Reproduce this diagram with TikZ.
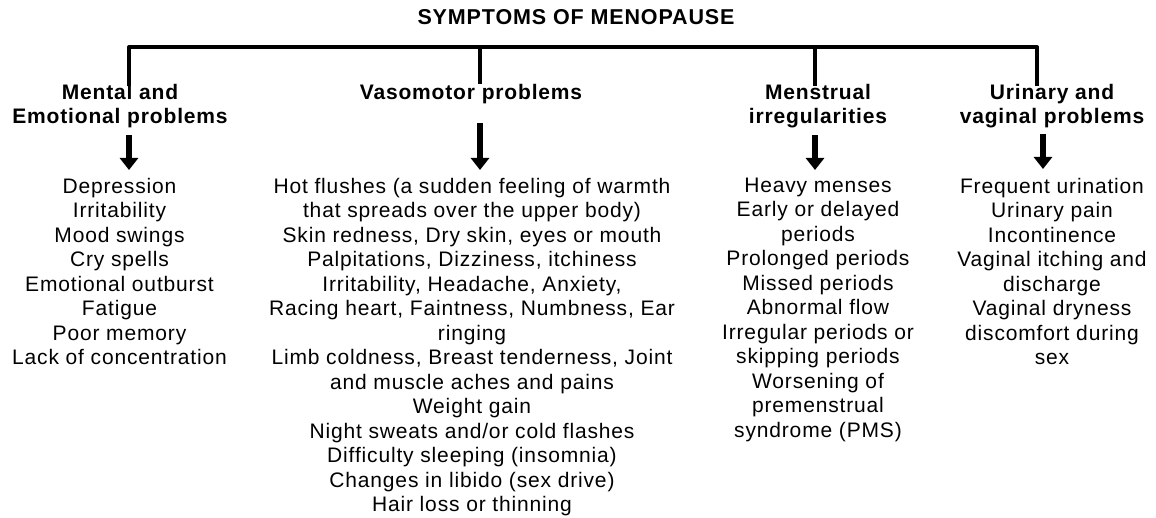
\documentclass[tikz,border=0pt]{standalone}
\usepackage{fontspec}
\setmainfont{Liberation Sans}[LetterSpace=4]
\usepackage{tikz}
\usetikzlibrary{positioning,arrows.meta}
\tikzset{
  txt/.style={inner sep=0pt, align=center, font=\fontsize{10.5pt}{12.25pt}\selectfont},
  head/.style={inner sep=0pt, align=center, anchor=north,
               font=\fontsize{10.5pt}{12pt}\selectfont\bfseries},
  item/.style={txt, anchor=north},
  tree/.style={line width=2pt, line join=round},
  arrow/.style={-{Triangle[width=9pt,length=6pt]}, line width=3.25pt},
}

\begin{document}
\begin{tikzpicture}[x=0.5pt,y=-0.5pt]
  \useasboundingbox (0,0) rectangle (1156,518);

  \node[txt, font=\fontsize{10.75pt}{13pt}\selectfont\bfseries] (t) at (576,17.5) {SYMPTOMS OF MENOPAUSE};

  % headings
  \node[head] (h1) at (120,84.2) {Mental and\\Emotional problems};
  \node[head] (h2) at (471,84.2) {Vasomotor problems};
  \node[head] (h3) at (818,84.2) {Menstrual\\irregularities};
  \node[head] (h4) at (1052,84.2) {Urinary and\\vaginal problems};

  % lists
  \node[item] (l1) at (119.5,177.5) {Depression\\Irritability\\Mood swings\\Cry spells\\Emotional outburst\\Fatigue\\Poor memory\\Lack of concentration};
  \node[item] (l2) at (472,177.5) {Hot flushes (a sudden feeling of warmth\\that spreads over the upper body)\\Skin redness, Dry skin, eyes or mouth\\Palpitations, Dizziness, itchiness\\Irritability, Headache, Anxiety,\\Racing heart, Faintness, Numbness, Ear\\ringing\\Limb coldness, Breast tenderness, Joint\\and muscle aches and pains\\Weight gain\\Night sweats and/or cold flashes\\Difficulty sleeping (insomnia)\\Changes in libido (sex drive)\\Hair loss or thinning};
  \node[item] (l3) at (818,177.5) {Heavy menses\\Early or delayed\\periods\\Prolonged periods\\Missed periods\\Abnormal flow\\Irregular periods or\\skipping periods\\Worsening of\\premenstrual\\syndrome (PMS)};
  \node[item] (l4) at (1052,177.5) {Frequent urination\\Urinary pain\\Incontinence\\Vaginal itching and\\discharge\\Vaginal dryness\\discomfort during\\sex};

  % tree
  \coordinate (d1) at (129,47);
  \coordinate (d2) at (480,47);
  \coordinate (d3) at (815,47);
  \coordinate (d4) at (1037,47);
  \draw[tree] ([yshift=-1pt]d1 |- h1.north) -- (d1) -- (d4) -- ([yshift=-1pt]d4 |- h4.north);
  \draw[tree] (d2) -- (d2 |- h2.north);
  \draw[tree] (d3) -- ([yshift=-1pt]d3 |- h3.north);

  % arrows
  \coordinate (a1) at (129,135);
  \coordinate (a2) at (480,123);
  \coordinate (a3) at (815,135);
  \coordinate (a4) at (1043,134);
  \draw[arrow] (a1) -- ([yshift=3.75pt]a1 |- l1.north);
  \draw[arrow] (a2) -- ([yshift=3.75pt]a2 |- l2.north);
  \draw[arrow] (a3) -- ([yshift=3.75pt]a3 |- l3.north);
  \draw[arrow] (a4) -- ([yshift=4.25pt]a4 |- l4.north);
\end{tikzpicture}
\end{document}
